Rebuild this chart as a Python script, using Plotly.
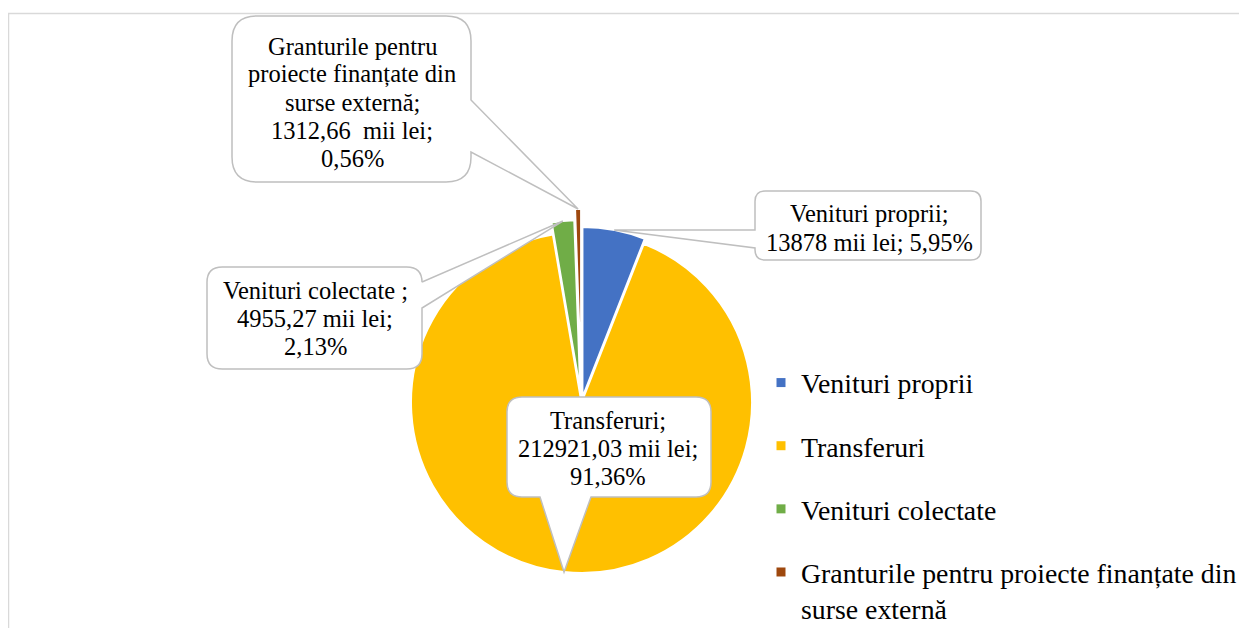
import math
import plotly.graph_objects as go

# ---------------- data ----------------
labels = ["Venituri proprii", "Transferuri", "Venituri colectate",
          "Granturile pentru proiecte finanțate din surse externă"]
legend_labels = ["Venituri proprii", "Transferuri", "Venituri colectate",
                 "Granturile pentru proiecte finanțate din<br>surse externă"]
values = [13878, 212921.03, 4955.27, 1312.66]
value_text = ["13878", "212921,03", "4955,27", "1312,66\u00a0"]
percent_text = ["5,95%", "91,36%", "2,13%", "0,56%"]
callout_names = [["Venituri proprii;"], ["Transferuri;"], ["Venituri colectate ;"],
                 ["Granturile pentru", "proiecte finanțate din", "surse externă;"]]

# ---------------- style ----------------
colors = ["#4472C4", "#FFC000", "#70AD47", "#9E480E"]
pulls = [0.03, 0.0, 0.07, 0.135]
W, H = 1247, 628            # figure size
OFF = 8                     # default page body margin (figure starts at 8,8 on screen)
CX, CY, R = 581.5, 402.5, 170.5          # pie centre / radius in screen pixels
FONT = "Liberation Serif, Times New Roman, serif"
BORDER = "#BFBFBF"

half = R * (1 + max(pulls))
dom_x = [(CX - half - OFF) / W, (CX + half - OFF) / W]
dom_y = [(H + OFF - CY - half) / H, (H + OFF - CY + half) / H]

fig = go.Figure()
fig.add_trace(go.Pie(
    labels=labels, values=values, sort=False, direction="clockwise", rotation=0,
    pull=pulls, marker=dict(colors=colors, line=dict(color="white", width=2)),
    textinfo="none", hoverinfo="label+value+percent", showlegend=False,
    domain=dict(x=dom_x, y=dom_y)))

# legend entries (one group per category for vertical spacing)
for lab, col, name in zip(labels, colors, legend_labels):
    fig.add_trace(go.Scatter(x=[None], y=[None], mode="markers", name=name,
                             legendgroup=lab,
                             marker=dict(symbol="square", size=9, color=col),
                             hoverinfo="skip"))

# tips of callouts computed from the pie geometry
total = sum(values)
cum = 0.0
tips = []
for v, p in zip(values, pulls):
    mid = (cum + v / 2) / total * 2 * math.pi
    cum += v
    r = R * (1 + p)
    tips.append((CX + r * math.sin(mid), CY - r * math.cos(mid)))


def bubble(x0, y0, x1, y1, side, t0, t1, tip):
    r = 0.15 * min(x1 - x0, y1 - y0)
    tx, ty = tip
    p = f"M {x0 + r},{y0} L {x1 - r},{y0} Q {x1},{y0} {x1},{y0 + r} "
    if side == "right":
        p += f"L {x1},{t0} L {tx},{ty} L {x1},{t1} "
    p += f"L {x1},{y1 - r} Q {x1},{y1} {x1 - r},{y1} "
    if side == "bottom":
        p += f"L {t1},{y1} L {tx},{ty} L {t0},{y1} "
    p += f"L {x0 + r},{y1} Q {x0},{y1} {x0},{y1 - r} "
    if side == "left":
        p += f"L {x0},{t1} L {tx},{ty} L {x0},{t0} "
    p += f"L {x0},{y0 + r} Q {x0},{y0} {x0 + r},{y0} Z"
    return p


# callout boxes: (box, tail side, tail base, text centre x, first line y, line step)
boxes = [
    ((755, 191, 981, 260), "left", (230, 248), 869, 213, 29),
    ((507, 397, 711, 497), "bottom", (540, 591), 608, 420, 28),
    ((207, 267, 422, 369), "right", (282, 308), 315, 290, 28),
    ((232, 16, 471, 182), "right", (100, 152), 352, 46, 28),
]

shapes = [dict(type="path", xref="x", yref="y",
               path="M 8.5,700 L 8.5,13.5 L 1300,13.5",
               line=dict(color="#D9D9D9", width=1.5), layer="below")]
annotations = []
for i, (box, side, base, tx, ty, step) in enumerate(boxes):
    x0, y0, x1, y1 = box
    shapes.append(dict(type="path", xref="x", yref="y", layer="above",
                       path=bubble(x0, y0, x1, y1, side, base[0], base[1], tips[i]),
                       fillcolor="white", line=dict(color=BORDER, width=1.5)))
    if i == 0:
        lines = [callout_names[i][0], f"{value_text[i]} mii lei; {percent_text[i]}"]
    else:
        lines = callout_names[i] + [f"{value_text[i]} mii lei;", percent_text[i]]
    for k, line in enumerate(lines):
        annotations.append(dict(x=tx, y=ty + k * step, xref="x", yref="y",
                                text=line, showarrow=False, xanchor="center",
                                yanchor="middle",
                                font=dict(family=FONT, size=24.5, color="black")))

fig.update_layout(
    width=W, height=H, margin=dict(l=0, r=0, t=0, b=0),
    paper_bgcolor="white", plot_bgcolor="white",
    xaxis=dict(range=[OFF, W + OFF], visible=False, fixedrange=True, domain=[0, 1]),
    yaxis=dict(range=[H + OFF, OFF], visible=False, fixedrange=True, domain=[0, 1]),
    shapes=shapes, annotations=annotations,
    showlegend=True,
    legend=dict(x=(761 - OFF) / W, y=1 - (358 - OFF) / H, xanchor="left", yanchor="top",
                font=dict(family=FONT, size=27.8, color="black"),
                tracegroupgap=24, valign="top", bgcolor="rgba(0,0,0,0)",
                traceorder="grouped"),
)

fig.write_html("out.html")
